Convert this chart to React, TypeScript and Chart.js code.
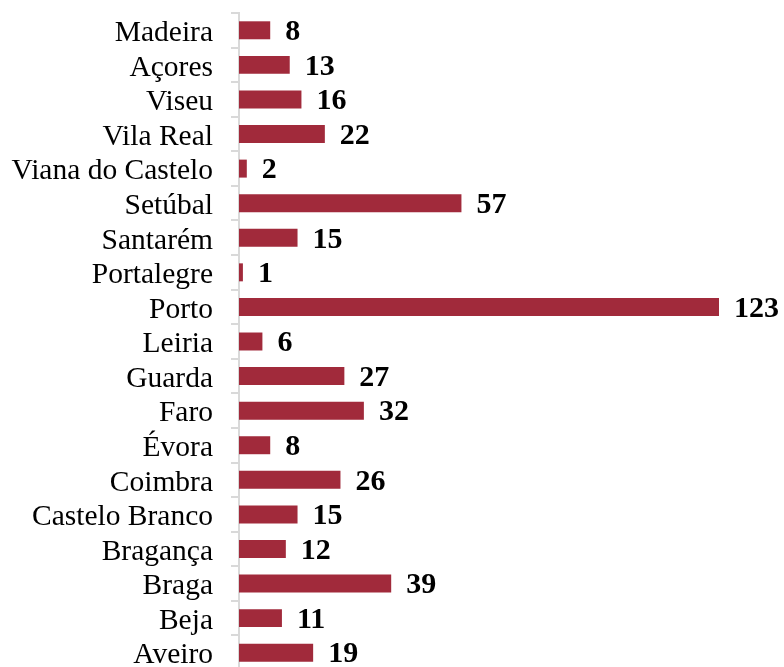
import React, { useEffect, useRef } from "react";
import { Chart, registerables } from "chart.js";

Chart.register(...registerables);

const categories = [
  "Madeira", "Açores", "Viseu", "Vila Real", "Viana do Castelo", "Setúbal",
  "Santarém", "Portalegre", "Porto", "Leiria", "Guarda", "Faro", "Évora",
  "Coimbra", "Castelo Branco", "Bragança", "Braga", "Beja", "Aveiro",
];
const values = [8, 13, 16, 22, 2, 57, 15, 1, 123, 6, 27, 32, 8, 26, 15, 12, 39, 11, 19];

const BAR_COLOR = "#A12A3B";

const labelPlugin = {
  id: "valueLabels",
  afterDatasetsDraw(chart: any) {
    const ctx = chart.ctx;
    const meta = chart.getDatasetMeta(0);
    ctx.save();
    ctx.font = "bold 30px 'Liberation Serif', 'Times New Roman', serif";
    ctx.fillStyle = "#000";
    ctx.textAlign = "left";
    ctx.textBaseline = "middle";
    meta.data.forEach((bar: any, i: number) => {
      ctx.fillText(String(values[i]), bar.x + 15, bar.y + 2);
    });
    ctx.restore();
  },
};

export default function App() {
  const ref = useRef<HTMLCanvasElement>(null);
  useEffect(() => {
    document.body.style.margin = "0";
    document.body.style.overflow = "hidden";
    const chart = new Chart(ref.current!, {
      type: "bar",
      data: {
        labels: categories,
        datasets: [
          {
            data: values,
            backgroundColor: BAR_COLOR,
            barPercentage: 0.52,
            categoryPercentage: 1,
          },
        ],
      },
      options: {
        indexAxis: "y",
        responsive: false,
        animation: false,
        layout: { padding: { top: 13, right: 65, bottom: 10, left: 0 } },
        plugins: { legend: { display: false }, tooltip: { enabled: false } },
        scales: {
          x: { display: false, min: 0, max: 123 },
          y: {
            afterFit(scale: any) {
              scale.width = 239;
              scale.paddingTop = 0;
              scale.paddingBottom = 0;
            },
            grid: {
              display: true,
              drawOnChartArea: false,
              drawTicks: true,
              tickLength: 8,
              color: "#d9d9d9",
              lineWidth: 2,
              offset: true,
            },
            border: { display: true, color: "#d9d9d9", width: 2 },
            ticks: {
              color: "#000",
              padding: 18,
              labelOffset: 3,
              autoSkip: false,
              font: { family: "'Liberation Serif', 'Times New Roman', serif", size: 29.5 },
            },
          },
        },
      },
      plugins: [labelPlugin],
    });
    return () => chart.destroy();
  }, []);
  return (
    <div style={{ position: "absolute", left: 0, top: 0, width: 784, height: 680 }}>
      <canvas ref={ref} width={784} height={680} style={{ width: 784, height: 680 }} />
    </div>
  );
}
